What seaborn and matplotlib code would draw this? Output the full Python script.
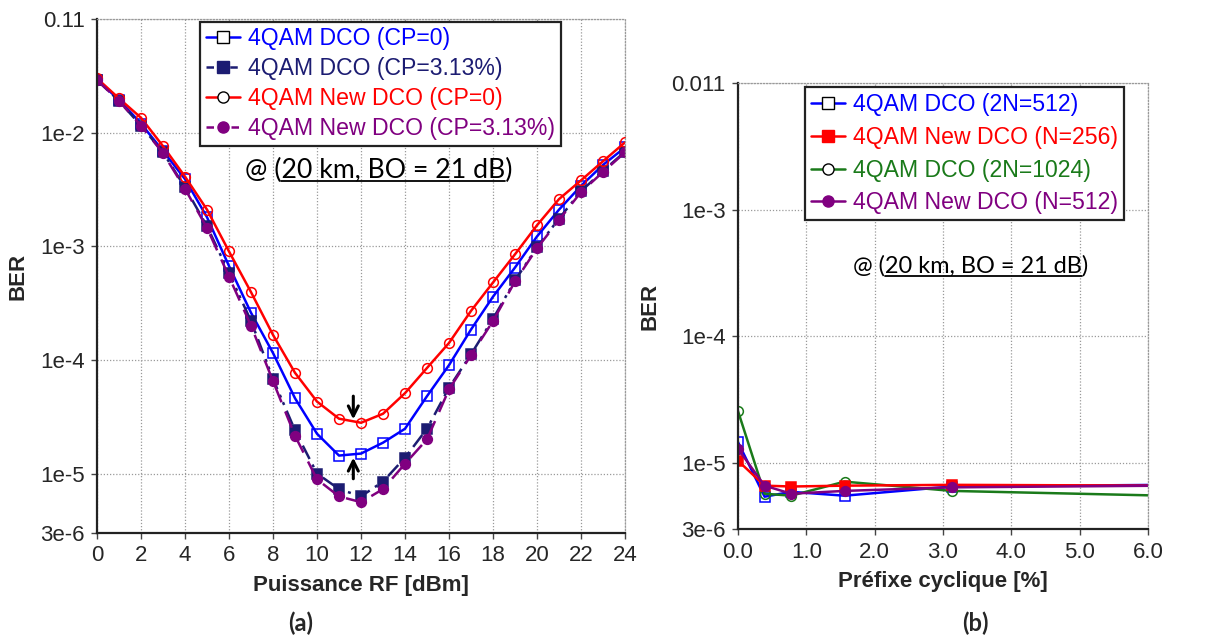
import matplotlib
matplotlib.use("Agg")
import matplotlib.pyplot as plt
import seaborn as sns
from matplotlib.lines import Line2D
from matplotlib.transforms import IdentityTransform

sns.set_theme(style="white")
plt.rcParams["font.family"] = ["Liberation Sans", "DejaVu Sans"]

# ── data: (a) BER vs RF power ────────────────────────────────────────────────
rf_power = list(range(25))
ber_dco_cp0 = [2.9e-2, 1.95e-2, 1.2e-2, 6.9e-3, 3.9e-3, 1.8e-3, 6.7e-4, 2.6e-4,
               1.15e-4, 4.6e-5, 2.24e-5, 1.44e-5, 1.5e-5, 1.87e-5, 2.48e-5, 4.8e-5,
               9.0e-5, 1.85e-4, 3.6e-4, 6.5e-4, 1.22e-3, 2.1e-3, 3.4e-3, 5.2e-3, 7.4e-3]
ber_dco_cp313 = [2.9e-2, 1.9e-2, 1.15e-2, 6.7e-3, 3.3e-3, 1.5e-3, 5.8e-4, 2.2e-4,
                 6.8e-5, 2.4e-5, 1.0e-5, 7.3e-6, 6.3e-6, 8.5e-6, 1.38e-5, 2.48e-5,
                 5.7e-5, 1.12e-4, 2.3e-4, 5.0e-4, 9.8e-4, 1.75e-3, 3.05e-3, 4.6e-3, 6.8e-3]
ber_new_cp0 = [3.0e-2, 2.0e-2, 1.35e-2, 7.6e-3, 4.1e-3, 2.1e-3, 9.0e-4, 3.95e-4,
               1.66e-4, 7.7e-5, 4.3e-5, 3.04e-5, 2.8e-5, 3.36e-5, 5.1e-5, 8.5e-5,
               1.41e-4, 2.7e-4, 4.8e-4, 8.5e-4, 1.53e-3, 2.6e-3, 3.8e-3, 5.6e-3, 8.2e-3]
ber_new_cp313 = [2.9e-2, 1.9e-2, 1.15e-2, 6.6e-3, 3.2e-3, 1.45e-3, 5.4e-4, 2.0e-4,
                 6.5e-5, 2.15e-5, 8.9e-6, 6.3e-6, 5.6e-6, 7.3e-6, 1.22e-5, 2.0e-5,
                 5.5e-5, 1.1e-4, 2.2e-4, 4.9e-4, 9.6e-4, 1.7e-3, 3.0e-3, 4.5e-3, 6.7e-3]
labels_a = ["4QAM DCO (CP=0)", "4QAM DCO (CP=3.13%)",
            "4QAM New DCO (CP=0)", "4QAM New DCO (CP=3.13%)"]

# ── data: (b) BER vs cyclic prefix ──────────────────────────────────────────
cp_pct = [0.0, 0.39, 0.78, 1.56, 3.13, 6.25]
ber_dco_512 = [1.46e-5, 5.4e-6, 5.9e-6, 5.5e-6, 6.5e-6, 6.7e-6]
ber_new_256 = [1.04e-5, 6.6e-6, 6.5e-6, 6.6e-6, 6.7e-6, 6.6e-6]
ber_dco_1024 = [2.57e-5, 5.7e-6, 5.5e-6, 7.1e-6, 6.0e-6, 5.5e-6]
ber_new_512 = [1.29e-5, 6.6e-6, 5.7e-6, 6.0e-6, 6.4e-6, 6.6e-6]
labels_b = ["4QAM DCO (2N=512)", "4QAM New DCO (N=256)",
            "4QAM DCO (2N=1024)", "4QAM New DCO (N=512)"]

BLUE, NAVY, RED, PURPLE, GREEN = "#0000ff", "#1c1c72", "#ff0000", "#800080", "#1a7a1a"
FS = 16

fig = plt.figure(figsize=(12.25, 6.41), dpi=100)
ax_a = fig.add_axes([0.0792, 0.1685, 0.4310, 0.8019])
ax_b = fig.add_axes([0.6024, 0.1747, 0.3347, 0.6958])


def style_axes(ax):
    ax.set_yscale("log")
    ax.grid(True, which="major", linestyle=(0, (1, 1.5)), color="#9a9a9a", lw=0.9)
    ax.minorticks_off()
    for s in ["top", "right"]:
        ax.spines[s].set_linestyle((0, (1, 1.5)))
        ax.spines[s].set_color("#9a9a9a")
        ax.spines[s].set_linewidth(0.9)
    for s in ["left", "bottom"]:
        ax.spines[s].set_color("#222222")
        ax.spines[s].set_linewidth(1.6)
    ax.tick_params(axis="both", which="major", labelsize=FS, length=4,
                   width=1, color="#444444", direction="out", pad=5,
                   bottom=True, left=True)
    ax.set_ylabel("BER", fontsize=FS, fontweight="bold", labelpad=8)


def plot_series(ax, x, y, color, marker, ls, filled, ms=7):
    sns.lineplot(x=x, y=y, ax=ax, color=color, lw=1.8, linestyle=ls,
                 marker=marker, markersize=ms, markeredgewidth=1.1,
                 markeredgecolor=color,
                 markerfacecolor=color if filled else "none",
                 estimator=None, sort=False, legend=False)


def legend_box(ax, labels, colors, markers, filled, styles, anchor, spacing):
    handles = []
    for c, m, f, ls in zip(colors, markers, filled, styles):
        handles.append(Line2D([], [], color=c, lw=1.8, linestyle=ls, marker=m,
                              markersize=8,
                              markerfacecolor=c if f else "white",
                              markeredgecolor=c if f else "black",
                              markeredgewidth=1.0))
    leg = ax.legend(handles, labels, loc="upper left", bbox_to_anchor=anchor,
                    fontsize=16.6, frameon=True, fancybox=False, framealpha=1,
                    edgecolor="#222222", handlelength=1.5, handletextpad=0.35,
                    labelspacing=spacing, borderpad=0.25, borderaxespad=0)
    leg.get_frame().set_linewidth(1.6)
    for t, c in zip(leg.get_texts(), colors):
        t.set_color(c)
    return leg


def underlined_note(ax, x, y, fs):
    renderer = fig.canvas.get_renderer()
    kw = dict(fontsize=fs, family=["Lato", "DejaVu Sans"], color="black",
              va="baseline", ha="left")
    full = "@ (20 km, BO = 21 dB)"
    ax.text(x, y, full, transform=ax.transAxes, **kw)
    widths = []
    for s in ["@ (", "@ (20 km, BO = 21 dB"]:
        tmp = ax.text(x, y, s, transform=ax.transAxes, **kw)
        widths.append(tmp.get_window_extent(renderer).width)
        tmp.remove()
    x0, y0 = ax.transAxes.transform((x, y))
    fig.add_artist(Line2D([x0 + widths[0], x0 + widths[1]], [y0 - 3, y0 - 3],
                          color="black", lw=1.3, transform=IdentityTransform()))


# ── (a) ──────────────────────────────────────────────────────────────────────
style_axes(ax_a)
plot_series(ax_a, rf_power, ber_dco_cp0, BLUE, "s", "-", False)
plot_series(ax_a, rf_power, ber_dco_cp313, NAVY, "s", (0, (6, 2.5, 1.2, 2, 1.2, 2.5)), True)
plot_series(ax_a, rf_power, ber_new_cp0, RED, "o", "-", False)
plot_series(ax_a, rf_power, ber_new_cp313, PURPLE, "o", (0, (7, 4)), True)
ax_a.set_xlim(0, 24)
ax_a.set_ylim(3e-6, 0.1)
ax_a.set_xticks(range(0, 25, 2))
ax_a.set_yticks([3e-6, 1e-5, 1e-4, 1e-3, 1e-2, 0.1])
ax_a.set_yticklabels(["3e-6", "1e-5", "1e-4", "1e-3", "1e-2", "0.11"])
ax_a.set_xlabel("Puissance RF [dBm]", fontsize=FS, fontweight="bold", labelpad=6)
legend_box(ax_a, labels_a, [BLUE, NAVY, RED, PURPLE], ["s", "s", "o", "o"],
           [False, True, False, True],
           ["-", (0, (3, 1.5, 1, 1.5, 1, 1.5)), "-", (0, (3, 2))],
           (0.195, 0.995), 0.3)
# arrows marking the optimum
arrow_kw = dict(arrowstyle="->", color="black", lw=2.2, mutation_scale=18,
                shrinkA=0, shrinkB=0)
ax_a.annotate("", xy=(11.65, 3.0e-5), xytext=(11.65, 4.8e-5), arrowprops=arrow_kw)
ax_a.annotate("", xy=(11.65, 1.38e-5), xytext=(11.65, 9.0e-6), arrowprops=arrow_kw)
underlined_note(ax_a, 0.28, 0.69, 19.2)
fig.text(0.2455, 0.01, "(a)", fontsize=17, fontweight="bold",
         family=["Lato", "DejaVu Sans"], ha="center", va="bottom")

# ── (b) ──────────────────────────────────────────────────────────────────────
style_axes(ax_b)
plot_series(ax_b, cp_pct, ber_dco_512, BLUE, "s", "-", False)
plot_series(ax_b, cp_pct, ber_dco_1024, GREEN, "o", "-", False)
plot_series(ax_b, cp_pct, ber_new_256, RED, "s", "-", True)
plot_series(ax_b, cp_pct, ber_new_512, PURPLE, "o", "-", True)
ax_b.set_xlim(0, 6)
ax_b.set_ylim(3e-6, 0.01)
ax_b.set_xticks([0, 1, 2, 3, 4, 5, 6])
ax_b.set_xticklabels([f"{v:.1f}" for v in range(7)])
ax_b.set_yticks([3e-6, 1e-5, 1e-4, 1e-3, 0.01])
ax_b.set_yticklabels(["3e-6", "1e-5", "1e-4", "1e-3", "0.011"])
ax_b.set_xlabel("Préfixe cyclique [%]", fontsize=FS, fontweight="bold", labelpad=6)
legend_box(ax_b, labels_b, [BLUE, RED, GREEN, PURPLE], ["s", "s", "o", "o"],
           [False, True, False, True], ["-", "-", "-", "-"],
           (0.163, 0.99), 0.42)
underlined_note(ax_b, 0.28, 0.575, 16.9)
fig.text(0.796, 0.01, "(b)", fontsize=17, fontweight="bold",
         family=["Lato", "DejaVu Sans"], ha="center", va="bottom")

fig.savefig("out.png", dpi=100)
plt.close(fig)
